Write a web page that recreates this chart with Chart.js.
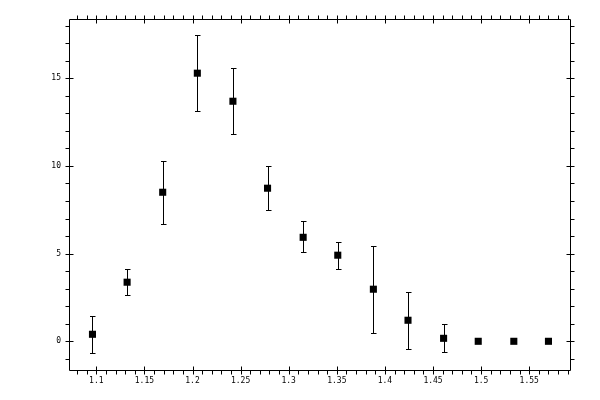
<!DOCTYPE html>
<html>
<head>
<meta charset="utf-8">
<script src="https://cdn.jsdelivr.net/npm/chart.js@4"></script>
<style>
  html, body { margin: 0; padding: 0; background: #fff; }
  canvas { display: block; }
</style>
</head>
<body>
<canvas id="plot" width="600" height="400"></canvas>
<script>
// values
var xVals = [1.096, 1.132, 1.169, 1.205, 1.242, 1.278, 1.315, 1.351, 1.388, 1.424, 1.461, 1.497, 1.534, 1.570];
var yVals = [0.40, 3.37, 8.50, 15.29, 13.69, 8.73, 5.93, 4.91, 2.97, 1.20, 0.17, 0, 0, 0];
var yLow  = [-0.68, 2.62, 6.67, 13.14, 11.81, 7.47, 5.08, 4.11, 0.46, -0.46, -0.63, 0, 0, 0];
var yHigh = [1.44, 4.11, 10.27, 17.46, 15.57, 9.98, 6.85, 5.65, 5.42, 2.80, 0.97, 0, 0, 0];

var xRange = [1.0716, 1.5924];
var yRange = [-1.637, 18.38];
var xStep = 0.01, xLabelEvery = 5;
var yStep = 1, yLabelEvery = 5;

var points = xVals.map(function (x, i) { return { x: x, y: yVals[i] }; });

function isMajor(v, step, every) {
  var n = Math.round(v / step);
  return n % every === 0;
}

// error bars, drawn under the markers
var errorBars = {
  id: 'errorBars',
  beforeDatasetsDraw: function (chart) {
    var ctx = chart.ctx, xs = chart.scales.x, ys = chart.scales.y;
    ctx.save();
    ctx.strokeStyle = '#000';
    ctx.lineWidth = 1;
    for (var i = 0; i < xVals.length; i++) {
      if (yHigh[i] === yLow[i]) continue;
      var px = Math.round(xs.getPixelForValue(xVals[i])) + 0.5;
      var top = Math.round(ys.getPixelForValue(yHigh[i])) + 0.5;
      var bot = Math.round(ys.getPixelForValue(yLow[i])) + 0.5;
      ctx.beginPath();
      ctx.moveTo(px, top); ctx.lineTo(px, bot);
      ctx.moveTo(px - 2.5, top); ctx.lineTo(px + 3, top);
      ctx.moveTo(px - 2.5, bot); ctx.lineTo(px + 3, bot);
      ctx.stroke();
    }
    ctx.restore();
  }
};

// box frame with ticks on all four sides
var frame = {
  id: 'frame',
  afterDraw: function (chart) {
    var ctx = chart.ctx, a = chart.chartArea;
    var xs = chart.scales.x, ys = chart.scales.y;
    var L = a.left + 0.5, R = a.right + 0.5, T = a.top + 0.5, B = a.bottom + 0.5;
    ctx.save();
    ctx.strokeStyle = '#000';
    ctx.lineWidth = 1;
    ctx.beginPath();
    ctx.rect(L, T, R - L, B - T);
    xs.ticks.forEach(function (t) {
      var p = Math.round(xs.getPixelForValue(t.value)) + 0.5;
      var major = isMajor(t.value, xStep, xLabelEvery);
      ctx.moveTo(p, B + 4); ctx.lineTo(p, major ? B - 4 : B);
      ctx.moveTo(p, T - 4); ctx.lineTo(p, major ? T + 4 : T);
    });
    ys.ticks.forEach(function (t) {
      var p = Math.round(ys.getPixelForValue(t.value)) + 0.5;
      var major = isMajor(t.value, yStep, yLabelEvery);
      ctx.moveTo(L - 4, p); ctx.lineTo(major ? L + 4 : L, p);
      ctx.moveTo(R + 4, p); ctx.lineTo(major ? R - 4 : R, p);
    });
    ctx.stroke();
    ctx.restore();
  }
};

var tickFont = { family: 'DejaVu Sans Mono', size: 8 };

new Chart(document.getElementById('plot').getContext('2d'), {
  type: 'scatter',
  data: {
    datasets: [{
      data: points,
      pointStyle: 'rect',
      pointRadius: 5,
      pointHoverRadius: 5,
      backgroundColor: '#000',
      borderColor: '#000',
      borderWidth: 0
    }]
  },
  options: {
    responsive: false,
    animation: false,
    devicePixelRatio: 1,
    layout: { padding: { left: 0, top: 19, right: 30, bottom: 0 } },
    plugins: { legend: { display: false }, tooltip: { enabled: false } },
    scales: {
      x: {
        type: 'linear',
        min: xRange[0],
        max: xRange[1],
        afterFit: function (s) { s.height = 30; },
        grid: { display: false, drawTicks: false },
        border: { display: false },
        ticks: {
          stepSize: xStep,
          includeBounds: false,
          autoSkip: false,
          maxRotation: 0,
          padding: 6,
          color: '#000',
          font: tickFont,
          callback: function (v) {
            return isMajor(v, xStep, xLabelEvery) ? String(+v.toFixed(2)) : '';
          }
        }
      },
      y: {
        type: 'linear',
        min: yRange[0],
        max: yRange[1],
        afterFit: function (s) { s.width = 69; },
        grid: { display: false, drawTicks: false },
        border: { display: false },
        ticks: {
          stepSize: yStep,
          includeBounds: false,
          autoSkip: false,
          padding: 8,
          color: '#000',
          font: tickFont,
          callback: function (v) {
            return isMajor(v, yStep, yLabelEvery) ? String(Math.round(v)) : '';
          }
        }
      }
    }
  },
  plugins: [errorBars, frame]
});
</script>
</body>
</html>
